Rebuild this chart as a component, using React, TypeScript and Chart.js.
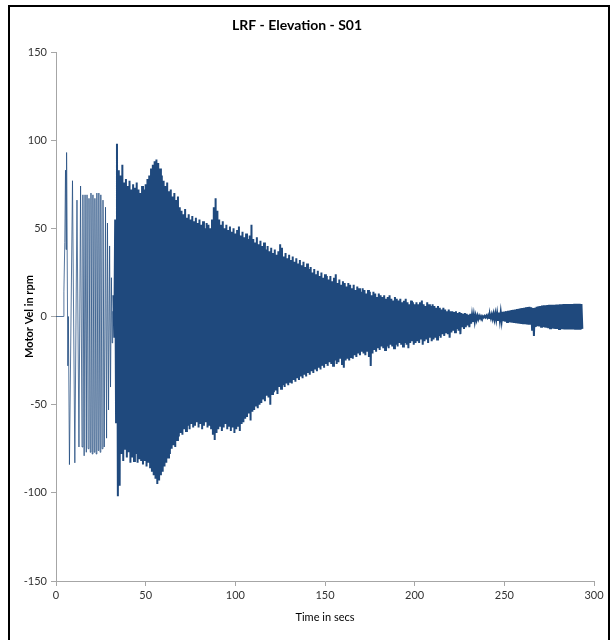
import React, { useEffect, useRef } from "react";
import { Chart, registerables } from "chart.js";

Chart.register(...registerables);

const TITLE = "LRF - Elevation - S01";
const X_TITLE = "Time in secs";
const Y_TITLE = "Motor Vel in rpm";
const X_MIN = 0;
const X_MAX = 300;
const X_STEP = 50;
const Y_MIN = -150;
const Y_MAX = 150;
const Y_STEP = 50;

// Early, individually visible swings (time in s, velocity in rpm)
const earlyTimes = [
  0, 4, 4.4, 4.9, 5.3, 5.6, 5.9, 6.6, 6.9, 7.5,
  9.2, 10.5, 11.7, 12.8, 13.7, 14.5, 15.0, 15.7, 16.2, 16.9,
  17.3, 17.9, 18.4, 19.1, 19.5, 20.2, 20.6, 21.3, 21.7, 22.4,
  22.8, 23.5, 23.9, 24.6, 25.0, 25.7, 26.2, 26.9, 27.6, 28.2,
  28.7, 29.3, 29.9, 30.4, 30.9, 31.3, 31.6,
];
const earlyValues = [
  0, 0, 14, 42, 83, 38, 93, -28, 0, -84,
  77, -83, 66, -74, 74, -74, 69, -79, 69, -77,
  69, -75, 67, -77, 70, -78, 69, -77, 67, -78,
  70, -76, 70, -77, 69, -75, 66, -74, 62, -69,
  53, -53, 40, -40, 22, -15, 3,
];

// Dense part: one swing per second, peak (upper) then trough (lower), from this second on
const DENSE_START = 32;
const upperPeaks = [
  12, 55, 98, 83, 80, 86, 76, 78, 74, 77,
  72, 75, 73, 76, 72, 70, 74, 72, 75, 78,
  80, 84, 86, 88, 89, 87, 84, 80, 77, 74,
  76, 71, 72, 68, 70, 66, 68, 62, 60, 58,
  61, 56, 58, 55, 57, 54, 56, 53, 55, 52,
  54, 50, 53, 52, 50, 55, 62, 67, 60, 55,
  52, 54, 50, 52, 49, 51, 48, 50, 47, 49,
  51, 46, 48, 45, 47, 44, 46, 52, 44, 42,
  45, 41, 43, 40, 42, 38, 40, 37, 39, 36,
  38, 35, 37, 41, 39, 34, 36, 33, 35, 32,
  34, 31, 33, 30, 32, 29, 31, 28, 30, 27,
  28, 25, 27, 24, 26, 23, 25, 22, 24, 23,
  21, 23, 20, 22, 24, 19, 21, 18, 20, 19,
  17, 19, 18, 16, 18, 15, 17, 16, 14, 16,
  15, 13, 15, 14, 12, 14, 13, 11, 13, 12,
  11, 12, 10, 11, 12, 10, 9, 11, 10, 9,
  10, 8, 9, 10, 8, 7, 9, 8, 7, 8,
  7, 8, 9, 7, 6, 8, 7, 6, 7, 6,
  5, 6, 5, 4, 5, 4, 3, 4, 3, 3,
  2.5, 3, 2, 2.5, 2, 1.5, 2, 1.5, 1, 1.5,
  1, 1, 0.5, 0.5, 0.3, 0.3, 0.2, 0.3, 0.5, 0.8,
  1, 1.2, 1.5, 1.7, 2, 2.2, 2.4, 2.6, 2.8, 3,
  3.2, 3.4, 3.6, 3.8, 4, 4.2, 4.4, 4.6, 4.8, 5,
  5.2, 5.4, 5.5, 5.2, 4.8, 5, 5.5, 5.8, 6, 6.2,
  6.3, 6.4, 6.5, 6.6, 6.6, 6.7, 6.7, 6.8, 6.8, 6.9,
  6.9, 7, 7, 7, 7, 7.1, 7.1, 7.2, 7.2, 7.2,
  7.2, 7,
];
const lowerTroughs = [
  -12, -60, -102, -96, -78, -82, -75, -80, -77, -83,
  -80, -82, -78, -83, -81, -82, -84, -82, -85, -83,
  -86, -88, -90, -92, -95, -93, -90, -88, -85, -83,
  -80, -78, -75, -73, -74, -70, -68, -66, -67, -64,
  -65, -62, -64, -61, -63, -62, -60, -63, -61, -64,
  -62, -60, -63, -62, -64, -67, -70, -66, -64, -62,
  -65, -63, -61, -64, -62, -65, -63, -66, -64, -62,
  -65, -61, -60, -58, -57, -55, -59, -54, -53, -51,
  -52, -50, -49, -47, -48, -45, -46, -50, -44, -43,
  -42, -44, -40, -41, -39, -40, -38, -39, -37, -38,
  -36, -37, -35, -36, -34, -35, -33, -34, -32, -33,
  -31, -32, -30, -31, -29, -30, -28, -29, -27, -28,
  -26, -27, -28, -25, -27, -26, -24, -27, -29, -25,
  -24, -25, -23, -24, -22, -23, -21, -22, -20, -21,
  -22, -20, -23, -28, -21, -19, -20, -18, -19, -17,
  -18, -19, -17, -18, -16, -17, -18, -16, -17, -15,
  -16, -17, -15, -16, -18, -15, -14, -16, -15, -14,
  -15, -13, -16, -14, -13, -15, -12, -14, -13, -12,
  -13, -11, -12, -10, -11, -9, -10, -12, -9, -8,
  -9, -7, -8, -10, -6, -7, -6, -5, -6, -4,
  -3, -3, -2, -1.5, -1, -0.8, -0.6, -0.5, -0.6, -0.8,
  -1, -1.3, -1.6, -1.8, -2, -2.3, -2.5, -2.7, -2.9, -3.1,
  -3.2, -3.4, -3.5, -3.7, -3.8, -4, -4.1, -4.2, -4.3, -4.4,
  -4.5, -4.6, -4.6, -8, -11, -6, -5.5, -5.6, -5.8, -6,
  -6.2, -6.4, -6.6, -6.7, -6.8, -6.9, -7, -7, -7.1, -7.2,
  -7.2, -7.3, -7.3, -7.3, -7.4, -7.4, -7.4, -7.5, -7.5, -7.5,
  -7.5, -7,
];

const FONT = "Lato, 'Liberation Sans', Arial, sans-serif";
const LINE_COLOR = "#1F497D";
const EARLY_COLOR = "rgba(31,73,125,0.75)";
const AXIS_COLOR = "#a6a6a6";
const TEXT_COLOR = "#333333";

function buildEarly() {
  return earlyTimes.map((t, i) => ({ x: t, y: earlyValues[i] }));
}

function buildDense() {
  const pts: { x: number; y: number }[] = [];
  upperPeaks.forEach((u, i) => {
    const t = DENSE_START + i;
    pts.push({ x: t, y: u });
    pts.push({ x: t + 0.5, y: lowerTroughs[i] });
  });
  return pts;
}

export default function App() {
  const canvasRef = useRef<HTMLCanvasElement | null>(null);

  useEffect(() => {
    const canvas = canvasRef.current;
    if (!canvas) return;
    const chart = new Chart(canvas, {
      type: "line",
      data: {
        datasets: [
          {
            data: buildEarly(),
            borderColor: EARLY_COLOR,
            borderWidth: 1,
            pointRadius: 0,
            tension: 0,
            fill: false,
          },
          {
            data: buildDense(),
            borderColor: LINE_COLOR,
            borderWidth: 2,
            pointRadius: 0,
            tension: 0,
            fill: false,
          },
        ],
      },
      options: {
        animation: false,
        responsive: false,
        devicePixelRatio: 1,
        layout: { padding: { left: 0, right: 20, top: 0, bottom: 0 } },
        plugins: {
          legend: { display: false },
          tooltip: { enabled: false },
          title: {
            display: true,
            text: TITLE,
            color: "#000000",
            font: { family: FONT, size: 14, weight: "bold" },
            padding: { top: 16.6, bottom: 18.6 },
          },
        },
        scales: {
          x: {
            type: "linear",
            min: X_MIN,
            max: X_MAX,
            ticks: { stepSize: X_STEP, color: TEXT_COLOR, font: { family: FONT, size: 11 }, padding: 3, maxRotation: 0 },
            grid: { display: true, drawOnChartArea: false, drawTicks: true, tickLength: 5, color: AXIS_COLOR },
            border: { display: true, color: AXIS_COLOR, width: 1 },
            title: {
              display: true,
              text: X_TITLE,
              color: "#000000",
              font: { family: FONT, size: 11 },
              padding: { top: 4, bottom: 16.4 },
            },
            afterFit: (s: any) => {
              s.height = 59;
            },
          },
          y: {
            type: "linear",
            min: Y_MIN,
            max: Y_MAX,
            ticks: { stepSize: Y_STEP, color: TEXT_COLOR, font: { family: FONT, size: 11 }, padding: 4 },
            grid: { display: true, drawOnChartArea: false, drawTicks: true, tickLength: 5, color: AXIS_COLOR },
            border: { display: true, color: AXIS_COLOR, width: 1 },
            title: {
              display: true,
              text: Y_TITLE,
              color: "#000000",
              font: { family: FONT, size: 11, weight: "bold" },
              padding: { top: 23, bottom: 0 },
            },
            afterFit: (s: any) => {
              s.width = 56;
            },
          },
        },
      },
    } as any);
    return () => chart.destroy();
  }, []);

  return (
    <div>
      <canvas
        ref={canvasRef}
        width={614}
        height={640}
        style={{ position: "fixed", left: 0, top: 0, width: 614, height: 640, display: "block" }}
      />
      <div
        style={{
          position: "fixed",
          left: 8,
          top: 5,
          width: 602,
          height: 640,
          boxSizing: "border-box",
          border: "2px solid #000000",
          borderBottom: "none",
          pointerEvents: "none",
        }}
      />
    </div>
  );
}
